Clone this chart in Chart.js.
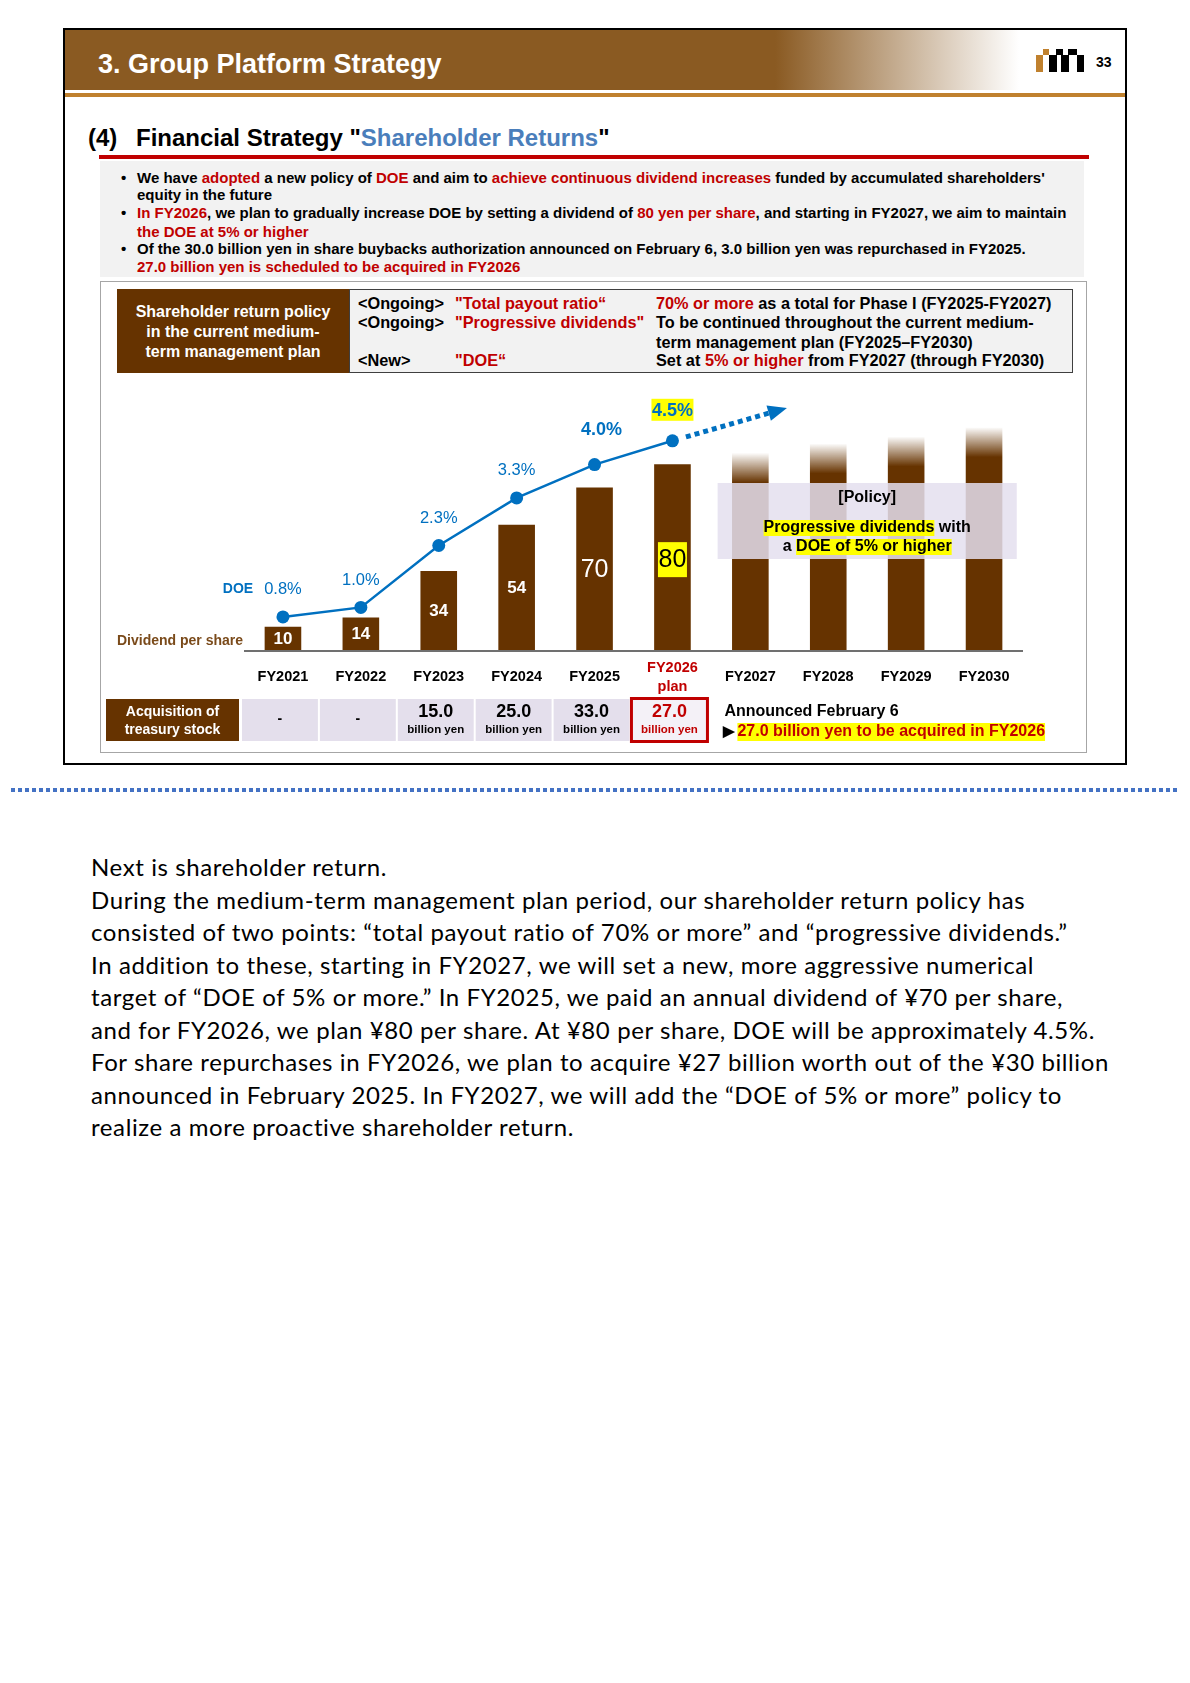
<!DOCTYPE html>
<html>
<head>
<meta charset="utf-8">
<title>Financial Strategy - Shareholder Returns</title>
<script src="https://cdn.jsdelivr.net/npm/chart.js@4.4.1/dist/chart.umd.min.js"></script>
<style>
  html, body { margin: 0; padding: 0; background: #fff; }
  body { width: 1190px; height: 1683px; position: relative; overflow: hidden;
         font-family: "Liberation Sans", Arial, sans-serif; color: #000; }
  .abs { position: absolute; white-space: nowrap; }
  .red { color: #c00000; }
  .b { font-weight: bold; }
  .bullets div { position: absolute; left: 137px; font-size: 15px; font-weight: bold; line-height: 18px; }
  .bullets span.dot { position: absolute; left: -16px; }
  .policy div { position: absolute; font-size: 16.3px; font-weight: bold; line-height: 18px; }
  .note { left: 91px; top: 851px; font-family: Lato, "Open Sans", sans-serif; font-size: 24px; letter-spacing: 0.6px; line-height: 32.55px; }
</style>
</head>
<body>
  <!-- slide frame and header -->
  <div class="abs" style="left:63px;top:28px;width:1064px;height:737px;border:2px solid #000;box-sizing:border-box;"></div>
  <div class="abs" style="left:65px;top:30px;width:1060px;height:60px;background:linear-gradient(to right,#8a5a22 0%,#8a5a22 67%,#ffffff 90%);"></div>
  <div class="abs b" style="left:98px;top:48px;font-size:27px;line-height:32px;color:#fff;">3. Group Platform Strategy</div>
  <div class="abs" style="left:65px;top:93px;width:1060px;height:4px;background:#c0812e;"></div>

  <div class="abs" style="left:1036px;top:55px;width:7px;height:17px;background:#c0812e;"></div>
  <div class="abs" style="left:1043px;top:49px;width:6px;height:6px;background:#c0812e;"></div>
  <div class="abs" style="left:1049px;top:55px;width:8px;height:17px;background:#000;"></div>
  <div class="abs" style="left:1056px;top:49px;width:7px;height:6px;background:#000;"></div>
  <div class="abs" style="left:1061px;top:55px;width:8px;height:17px;background:#000;"></div>
  <div class="abs" style="left:1068px;top:49px;width:9px;height:6px;background:#000;"></div>
  <div class="abs" style="left:1077px;top:55px;width:7px;height:17px;background:#000;"></div>
  <div class="abs b" style="left:1096px;top:54px;font-size:14px;line-height:16px;">33</div>

  <div class="abs b" style="left:88px;top:124px;font-size:24px;line-height:28px;">(4)</div>
  <div class="abs b" style="left:136px;top:124px;font-size:24px;line-height:28px;">Financial Strategy "<span style="color:#4a7ebb;">Shareholder Returns</span>"</div>
  <div class="abs" style="left:99px;top:155px;width:990px;height:4px;background:#c00000;"></div>

  <!-- bullet box -->
  <div class="abs" style="left:100px;top:161px;width:984px;height:116px;background:#f2f2f2;"></div>
  <div class="bullets">
    <div style="top:169px;"><span class="dot">•</span>We have <span class="red">adopted</span> a new policy of <span class="red">DOE</span> and aim to <span class="red">achieve continuous dividend increases</span> funded by accumulated shareholders'</div>
    <div style="top:186px;">equity in the future</div>
    <div style="top:204px;"><span class="dot">•</span><span class="red">In FY2026</span>, we plan to gradually increase DOE by setting a dividend of <span class="red">80 yen per share</span>, and starting in FY2027, we aim to maintain</div>
    <div style="top:223px;" class="red">the DOE at 5% or higher</div>
    <div style="top:240px;"><span class="dot">•</span>Of the 30.0 billion yen in share buybacks authorization announced on February 6, 3.0 billion yen was repurchased in FY2025.</div>
    <div style="top:258px;" class="red">27.0 billion yen is scheduled to be acquired in FY2026</div>
  </div>

  <!-- chart box and policy table -->
  <div class="abs" style="left:100px;top:281px;width:987px;height:472px;border:1px solid #a6a6a6;box-sizing:border-box;"></div>
  <div class="abs" style="left:117px;top:289px;width:232px;height:84px;background:#663300;"></div>
  <div class="abs b" style="left:117px;top:302px;width:232px;font-size:16px;line-height:20px;color:#fff;text-align:center;white-space:normal;">Shareholder return policy<br>in the current medium-<br>term management plan</div>
  <div class="abs" style="left:349px;top:289px;width:724px;height:84px;background:#f2f2f2;border:1.5px solid #3f3f3f;box-sizing:border-box;"></div>
  <div class="policy">
    <div style="left:358px;top:294px;">&lt;Ongoing&gt;</div>
    <div style="left:455px;top:294px;" class="red">"Total payout ratio“</div>
    <div style="left:656px;top:294px;"><span class="red">70% or more</span> as a total for Phase I (FY2025-FY2027)</div>
    <div style="left:358px;top:313px;">&lt;Ongoing&gt;</div>
    <div style="left:455px;top:313px;" class="red">"Progressive dividends"</div>
    <div style="left:656px;top:313px;">To be continued throughout the current medium-</div>
    <div style="left:656px;top:333px;">term management plan (FY2025–FY2030)</div>
    <div style="left:358px;top:351px;">&lt;New&gt;</div>
    <div style="left:455px;top:351px;" class="red">"DOE“</div>
    <div style="left:656px;top:351px;">Set at <span class="red">5% or higher</span> from FY2027 (through FY2030)</div>
  </div>

  <div class="abs" style="left:101px;top:376px;width:985px;height:376px;">
    <canvas id="dividendChart" width="985" height="376"></canvas>
  </div>

  <div class="abs" style="left:11px;top:788px;width:1169px;height:4px;background:repeating-linear-gradient(to right,#4472c4 0px,#4472c4 4px,transparent 4px,transparent 7px);"></div>

  <div class="abs note">
    Next is shareholder return.<br>
    During the medium-term management plan period, our shareholder return policy has<br>
    consisted of two points: “total payout ratio of 70% or more” and “progressive dividends.”<br>
    In addition to these, starting in FY2027, we will set a new, more aggressive numerical<br>
    target of “DOE of 5% or more.” In FY2025, we paid an annual dividend of ¥70 per share,<br>
    and for FY2026, we plan ¥80 per share. At ¥80 per share, DOE will be approximately 4.5%.<br>
    For share repurchases in FY2026, we plan to acquire ¥27 billion worth out of the ¥30 billion<br>
    announced in February 2025. In FY2027, we will add the “DOE of 5% or more” policy to<br>
    realize a more proactive shareholder return.
  </div>

<script>
const fiscalYears = ['FY2021', 'FY2022', 'FY2023', 'FY2024', 'FY2025', 'FY2026', 'FY2027', 'FY2028', 'FY2029', 'FY2030'];
const dividendPerShare = [10, 14, 34, 54, 70, 80];      // yen, FY2021-FY2026 plan
const outlookBars = [85, 89, 92, 96];                    // illustrative heights, FY2027-FY2030
const doeRatio = [0.8, 1.0, 2.3, 3.3, 4.0, 4.5];         // %
const treasuryStock = [null, null, 15.0, 25.0, 33.0, 27.0]; // billion yen
const doeTrendTip = [6.47, 5.19];                        // arrow end (category index, DOE %)

const BROWN = '#663300';
const BLUE = '#0070c0';
const RED = '#c00000';
const YELLOW = '#ffff00';
const FONT = '"Liberation Sans", Arial, sans-serif';
const font = (size, bold) => (bold ? 'bold ' : '') + size + 'px ' + FONT;

const lastActual = dividendPerShare.length - 1;

function drawSegments(ctx, segs, cx, cy, h) {
  const widths = segs.map(s => ctx.measureText(s[0]).width);
  let x = cx - widths.reduce((a, b) => a + b, 0) / 2;
  segs.forEach((s, i) => {
    if (s[1]) {
      ctx.fillStyle = YELLOW;
      ctx.fillRect(x, cy - h / 2, widths[i], h);
    }
    ctx.fillStyle = '#000';
    ctx.fillText(s[0], x, cy);
    x += widths[i];
  });
}

const slideDecor = {
  id: 'slideDecor',
  afterDatasetsDraw(chart) {
    const { ctx, chartArea: area, scales: { x, y2 } } = chart;
    const bars = chart.getDatasetMeta(0).data;
    const points = chart.getDatasetMeta(1).data;
    const slot = x.getPixelForValue(1) - x.getPixelForValue(0);
    ctx.save();

    // axis line
    ctx.strokeStyle = '#707070';
    ctx.lineWidth = 2;
    ctx.beginPath();
    ctx.moveTo(area.left, area.bottom + 1);
    ctx.lineTo(area.right, area.bottom + 1);
    ctx.stroke();

    // policy box over the outlook bars
    const boxL = x.getPixelForValue(dividendPerShare.length) - slot * 0.42;
    const boxR = x.getPixelForValue(fiscalYears.length - 1) + slot * 0.42;
    const boxT = 107, boxB = 183;
    ctx.fillStyle = 'rgba(228,223,238,0.85)';
    ctx.fillRect(boxL, boxT, boxR - boxL, boxB - boxT);
    const boxC = (boxL + boxR) / 2;
    ctx.font = font(16, true);
    ctx.textBaseline = 'middle';
    ctx.textAlign = 'left';
    drawSegments(ctx, [['[Policy]', false]], boxC, boxT + 15, 16);
    drawSegments(ctx, [['Progressive dividends', true], [' with', false]], boxC, boxT + 45, 16);
    drawSegments(ctx, [['a ', false], ['DOE of 5% or higher', true]], boxC, boxT + 64, 16);

    // dividend labels inside bars
    ctx.textAlign = 'center';
    dividendPerShare.forEach((v, i) => {
      const bar = bars[i];
      const cy = (bar.y + bar.base) / 2;
      if (i === lastActual) {
        ctx.fillStyle = YELLOW;
        ctx.fillRect(bar.x - 14.5, cy - 15, 29, 35);
        ctx.fillStyle = '#000';
        ctx.font = font(25, false);
        ctx.fillText(String(v), bar.x, cy + 3);
      } else {
        ctx.fillStyle = '#fff';
        ctx.font = i >= 4 ? font(25, false) : font(17, true);
        ctx.fillText(String(v), bar.x, cy + 1);
      }
    });

    // DOE labels
    doeRatio.forEach((v, i) => {
      const p = points[i];
      const dx = i === 4 ? 7 : 0;
      const dy = i === 4 ? -36 : (i === 5 ? -31 : -28);
      const txt = v.toFixed(1) + '%';
      ctx.font = i >= 4 ? font(18, true) : font(16.5, false);
      if (i === lastActual) {
        ctx.fillStyle = YELLOW;
        ctx.fillRect(p.x + dx - 21, p.y + dy - 11, 42, 22);
      }
      ctx.fillStyle = BLUE;
      ctx.fillText(txt, p.x + dx, p.y + dy + 1);
    });
    ctx.font = font(14, true);
    ctx.fillStyle = BLUE;
    ctx.fillText('DOE', points[0].x - 45, points[0].y - 28);

    ctx.textAlign = 'right';
    ctx.fillStyle = '#7a4a1a';
    ctx.fillText('Dividend per share', area.left - 1, area.bottom - 9);

    // dotted trend arrow after FY2026
    const p = points[lastActual];
    const tx = x.getPixelForValue(doeTrendTip[0]);
    const ty = y2.getPixelForValue(doeTrendTip[1]);
    const len = Math.hypot(tx - p.x, ty - p.y);
    ctx.save();
    ctx.translate(p.x, p.y);
    ctx.rotate(Math.atan2(ty - p.y, tx - p.x));
    ctx.strokeStyle = BLUE;
    ctx.fillStyle = BLUE;
    ctx.lineWidth = 5;
    ctx.setLineDash([5, 4]);
    ctx.beginPath();
    ctx.moveTo(14, 0);
    ctx.lineTo(len - 19, 0);
    ctx.stroke();
    ctx.setLineDash([]);
    ctx.beginPath();
    ctx.moveTo(len, 0);
    ctx.lineTo(len - 19, -8);
    ctx.lineTo(len - 19, 8);
    ctx.closePath();
    ctx.fill();
    ctx.restore();

    // category labels
    ctx.textAlign = 'center';
    ctx.font = font(14.5, true);
    fiscalYears.forEach((label, i) => {
      const cx = x.getPixelForValue(i);
      if (i === lastActual) {
        ctx.fillStyle = RED;
        ctx.fillText(label, cx, area.bottom + 18);
        ctx.fillText('plan', cx, area.bottom + 37);
      } else {
        ctx.fillStyle = '#000';
        ctx.fillText(label, cx, area.bottom + 27);
      }
    });

    // acquisition of treasury stock row
    const rowT = area.bottom + 49, rowH = 42;
    ctx.fillStyle = BROWN;
    ctx.fillRect(area.left - 138, rowT, 133, rowH);
    ctx.fillStyle = '#fff';
    ctx.font = font(14, true);
    ctx.fillText('Acquisition of', area.left - 71.5, rowT + 13);
    ctx.fillText('treasury stock', area.left - 71.5, rowT + 31);

    treasuryStock.forEach((v, i) => {
      const cx = x.getPixelForValue(i) - 3;
      const plan = i === lastActual;
      ctx.fillStyle = plan ? '#f4f1f7' : '#e4dfec';
      ctx.fillRect(cx - slot / 2 + 1, rowT, slot - 2, rowH);
      if (plan) {
        ctx.strokeStyle = RED;
        ctx.lineWidth = 3;
        ctx.strokeRect(cx - 38, rowT - 0.5, 76, rowH + 1);
      }
      ctx.fillStyle = plan ? RED : '#000';
      if (v === null) {
        ctx.font = font(14, true);
        ctx.fillText('-', cx, rowT + 20);
      } else {
        ctx.font = font(18, true);
        ctx.fillText(v.toFixed(1), cx, rowT + 13);
        ctx.font = font(11.5, true);
        ctx.fillText('billion yen', cx, rowT + 31);
      }
    });

    const noteX = x.getPixelForValue(dividendPerShare.length) - slot / 2 + 13;
    ctx.textAlign = 'left';
    ctx.font = font(16, true);
    ctx.fillStyle = '#000';
    ctx.fillText('Announced February 6', noteX, rowT + 13);
    ctx.font = font(15, true);
    ctx.fillText('▶', noteX - 1, rowT + 33);
    ctx.font = font(16, true);
    const note = '27.0 billion yen to be acquired in FY2026';
    const w = ctx.measureText(note).width;
    ctx.fillStyle = YELLOW;
    ctx.fillRect(noteX + 13, rowT + 24, w, 18);
    ctx.fillStyle = RED;
    ctx.fillText(note, noteX + 13, rowT + 33);

    ctx.restore();
  }
};

function barColor(context) {
  if (context.dataIndex <= lastActual) return BROWN;
  const chart = context.chart;
  if (!chart.chartArea) return BROWN;
  const top = chart.scales.y.getPixelForValue(context.raw);
  const g = chart.ctx.createLinearGradient(0, top, 0, top + 30);
  g.addColorStop(0, 'rgba(102,51,0,0)');
  g.addColorStop(1, BROWN);
  return g;
}

const padNull = arr => arr.concat(Array(fiscalYears.length - arr.length).fill(null));

new Chart(document.getElementById('dividendChart'), {
  type: 'bar',
  data: {
    labels: fiscalYears,
    datasets: [
      {
        label: 'Dividend per share',
        data: dividendPerShare.concat(outlookBars),
        backgroundColor: barColor,
        borderWidth: 0,
        barPercentage: 0.47,
        categoryPercentage: 1,
        yAxisID: 'y',
        order: 1
      },
      {
        type: 'line',
        label: 'DOE',
        data: padNull(doeRatio),
        borderColor: BLUE,
        borderWidth: 2.5,
        pointRadius: 6.5,
        pointBackgroundColor: BLUE,
        pointBorderWidth: 0,
        tension: 0,
        yAxisID: 'y2',
        order: 0
      }
    ]
  },
  options: {
    responsive: false,
    animation: false,
    events: [],
    layout: { padding: { left: 143, right: 63, top: 14, bottom: 102 } },
    plugins: { legend: { display: false }, tooltip: { enabled: false } },
    scales: {
      x: { display: false, offset: true },
      y: { display: false, min: 0, max: 112 },
      y2: { display: false, min: 0.105, max: 5.567 }
    }
  },
  plugins: [slideDecor]
});
</script>
</body>
</html>
